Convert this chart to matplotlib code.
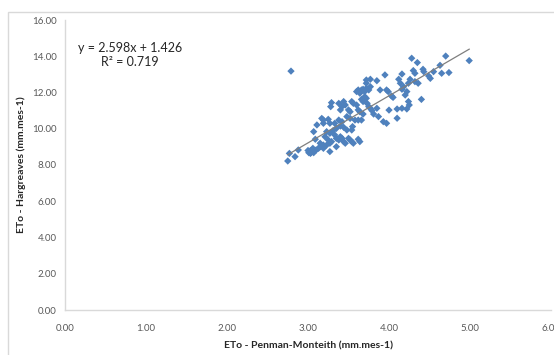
import matplotlib
matplotlib.use("Agg")
import matplotlib.pyplot as plt
from matplotlib.patches import Rectangle
import numpy as np

# ETo Penman-Monteith (x) vs ETo Hargreaves (y), mm.mes-1
pm = [4.28, 4.35, 4.70, 4.99, 4.63, 4.42, 4.43, 4.30, 4.32, 4.55, 4.65, 4.74, 4.49, 4.51,
      4.16, 4.26, 4.36, 4.32, 4.24, 4.12, 4.14, 4.18, 4.16, 4.22, 4.20, 4.40, 3.95, 3.85,
      3.77, 3.72, 3.97, 3.99, 4.03, 4.05, 3.89, 4.24, 4.25, 4.22, 4.16, 4.10, 4.00, 4.10,
      3.97, 3.93, 3.85, 3.87,
      3.60, 3.62, 3.64, 3.66, 3.68, 3.70, 3.72, 3.75, 3.77, 3.72, 3.70, 3.72, 3.68, 3.73,
      3.75, 3.77, 3.79, 3.81, 3.66, 3.60, 3.62, 3.64, 3.68, 3.58, 3.62, 3.66, 3.54, 3.55,
      3.62, 3.64,
      3.29, 3.28, 3.38, 3.40, 3.42, 3.44, 3.46, 3.50, 3.52, 3.54, 3.56, 3.48, 3.52, 3.25,
      3.19, 3.17, 3.11, 3.07, 3.19, 3.27, 3.33, 3.38, 3.42, 3.35, 3.40, 3.44, 3.48, 3.23,
      3.27, 3.31, 3.33, 3.35, 3.38, 3.40, 3.42, 3.44, 3.46, 3.50, 3.52, 3.54, 3.56, 3.21,
      3.25, 3.29, 3.09, 3.15, 3.19, 3.23, 3.27, 3.13, 3.15, 3.17, 3.19, 3.02, 3.03, 3.05,
      3.06, 3.03, 3.07, 3.10, 3.27, 3.35, 2.88, 2.84, 2.77, 2.75, 2.79, 3.00, 3.04, 3.08,
      3.01]
hg = [13.89, 13.65, 14.01, 13.76, 13.50, 13.28, 13.15, 13.21, 13.06, 13.15, 13.06, 13.10, 12.91, 12.78,
      13.02, 12.73, 12.51, 12.60, 12.51, 12.73, 12.51, 12.32, 12.18, 12.05, 11.86, 11.62, 12.97, 12.65,
      12.73, 12.69, 12.14, 12.05, 11.81, 11.73, 12.14, 11.50, 11.31, 11.09, 11.13, 11.09, 11.03, 10.58,
      10.30, 10.39, 11.13, 10.67,
      12.05, 12.14, 11.96, 12.14, 12.18, 12.05, 12.23, 12.14, 12.32, 12.51, 11.77, 11.68, 11.50, 11.40,
      11.22, 11.13, 11.00, 10.81, 11.62, 11.31, 11.04, 10.94, 10.81, 10.48, 10.48, 10.48, 9.93, 10.12,
      9.42, 9.29,
      11.44, 11.22, 11.40, 11.04, 11.22, 11.50, 11.31, 11.04, 10.94, 11.50, 11.40, 10.67, 10.57, 10.52,
      10.48, 10.57, 10.21, 9.84, 10.30, 10.30, 10.30, 10.48, 10.39, 10.02, 10.15, 10.08, 9.93, 9.84,
      9.75, 9.90, 9.66, 9.47, 9.38, 9.56, 9.47, 9.29, 9.20, 9.47, 9.38, 9.29, 9.20, 9.56,
      9.38, 9.29, 9.42, 9.20, 9.10, 9.10, 9.20, 8.92, 9.01, 9.05, 8.92, 8.74, 8.64, 8.83,
      8.92, 8.79, 8.68, 8.83, 8.74, 9.01, 8.83, 8.46, 8.64, 8.22, 13.18, 8.80, 8.70, 8.78,
      8.68]

slope = 2.598
intercept = 1.426
r2 = 0.719

x_ticks = [0, 1, 2, 3, 4, 5, 6]
y_ticks = [0, 2, 4, 6, 8, 10, 12, 14, 16]

plt.rcParams['font.family'] = ['Lato', 'DejaVu Sans']

W, H = 554, 355
fig = plt.figure(figsize=(W / 100, H / 100), dpi=100)
ax = fig.add_axes([65 / W, 1 - 310 / H, (551 - 65) / W, (310 - 20) / H])

# chart area border (left & top visible)
fig.add_artist(Rectangle((8 / W, -0.2), 2.0, 1 - 12 / H + 0.2, transform=fig.transFigure,
                         fill=False, edgecolor='#D9D9D9', linewidth=1.0, clip_on=False))

ax.scatter(pm, hg, marker='D', s=14, color='#4F81BD', edgecolors='none', zorder=3)

xl = np.array([min(pm), max(pm)])
ax.plot(xl, slope * xl + intercept, color='#7F7F7F', linewidth=0.9, zorder=4)

ax.set_xlim(0, 6)
ax.set_ylim(0, 16)
ax.set_xticks(x_ticks)
ax.set_yticks(y_ticks)
ax.set_xticklabels([f"{v:.2f}" for v in x_ticks])
ax.set_yticklabels([f"{v:.2f}" for v in y_ticks])
ax.tick_params(axis='both', length=0, labelsize=7, colors='#595959')
ax.tick_params(axis='x', pad=10)
ax.tick_params(axis='y', pad=6)

for s in ['top', 'right']:
    ax.spines[s].set_visible(False)
for s in ['left', 'bottom']:
    ax.spines[s].set_color('#D9D9D9')
    ax.spines[s].set_linewidth(1.0)

ax.set_xlabel('ETo - Penman-Monteith (mm.mes-1)', fontsize=7.5, fontweight='bold',
              color='#262626', labelpad=6)
ax.set_ylabel('ETo - Hargreaves (mm.mes-1)', fontsize=7.5, fontweight='bold',
              color='#262626', labelpad=4)

ax.text(0.134, 0.88, f"y = {slope}x + {intercept}\nR\u00b2 = {r2}", transform=ax.transAxes,
        ha='center', va='center', multialignment='center', fontsize=9, color='#262626',
        linespacing=1.15)

fig.savefig('out.png', dpi=100)
